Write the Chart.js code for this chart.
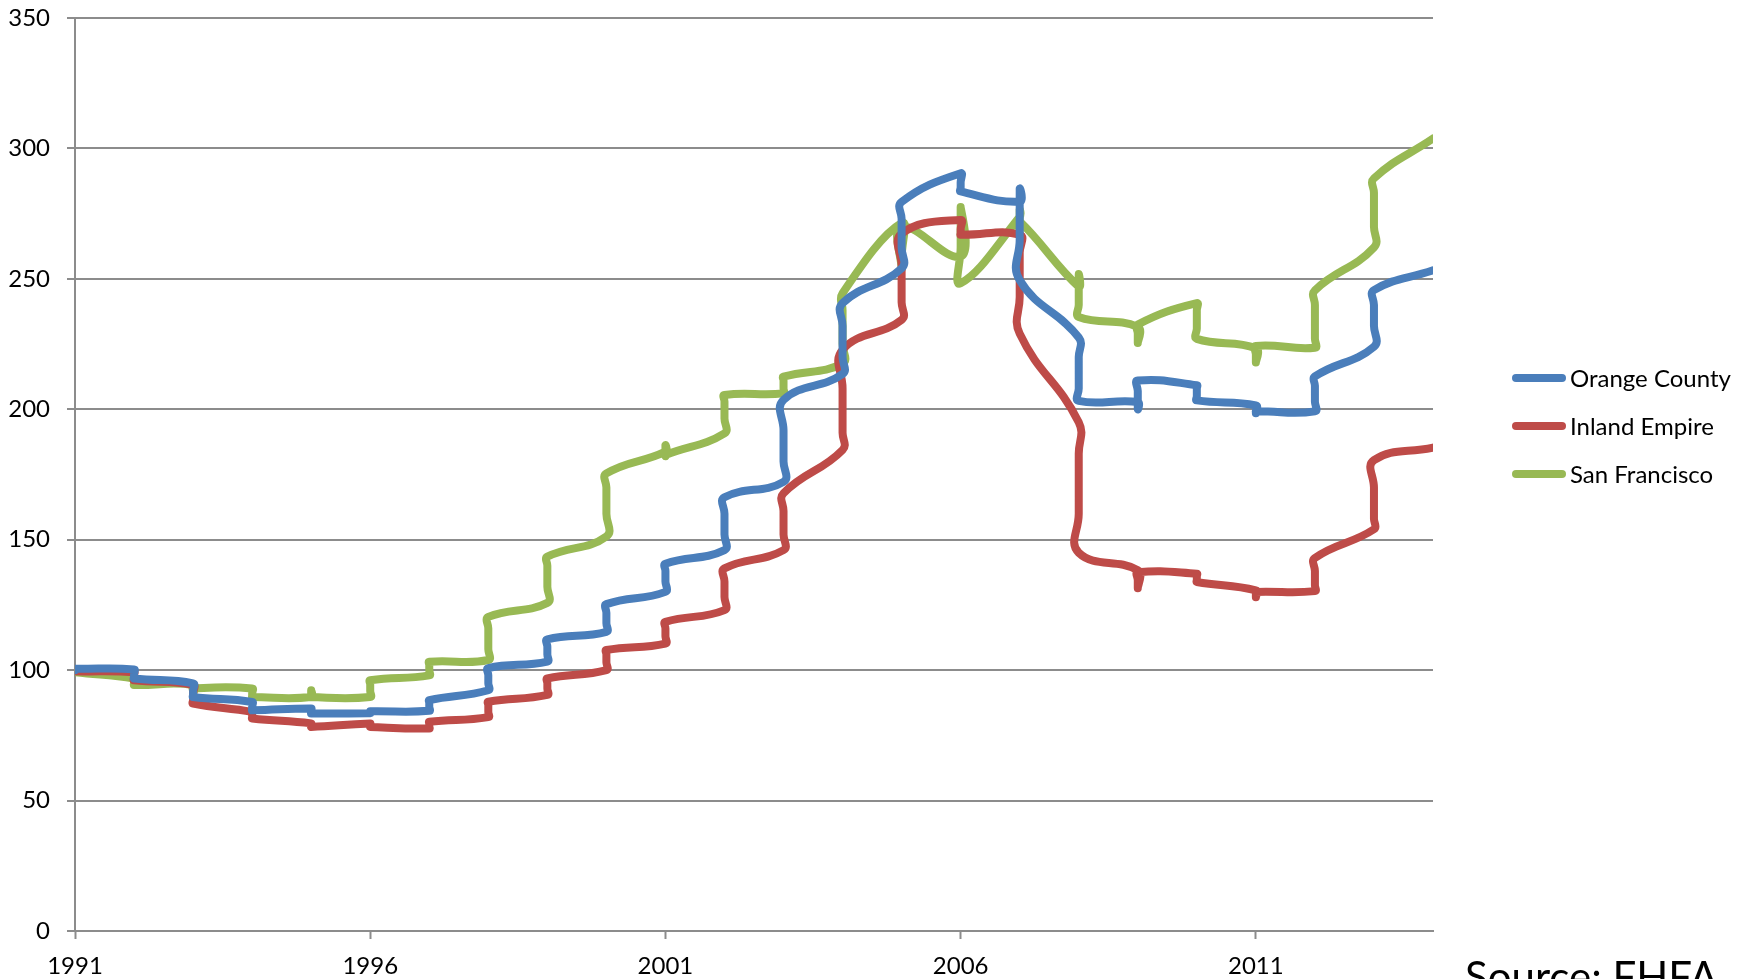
<!DOCTYPE html>
<html>
<head>
<meta charset="utf-8">
<script src="https://cdn.jsdelivr.net/npm/chart.js@4.4.1/dist/chart.umd.min.js"></script>
<style>
  html, body { margin: 0; padding: 0; background: #fff; overflow: hidden; }
  #wrap { position: relative; width: 1754px; height: 979px; }
  #chartBox { position: absolute; left: 0; top: 0; width: 1754px; height: 979px; }
  #source { position: absolute; left: 1465px; top: 955px; font: 42px Lato, sans-serif; line-height: 1; color: #000; white-space: nowrap; }
</style>
</head>
<body>
<div id="wrap">
  <div id="chartBox"><canvas id="myChart"></canvas></div>
  <div id="source">Source: FHFA</div>
</div>
<script>
// quarterly index values, four per year (the last year has only Q1)
const years = [1991, 1992, 1993, 1994, 1995, 1996, 1997, 1998, 1999, 2000, 2001, 2002,
  2003, 2004, 2005, 2006, 2007, 2008, 2009, 2010, 2011, 2012, 2013, 2014];

const orangeCounty = [
  [100, 100.5, 100.5, 100.5], [100.3, 98.5, 97.5, 96.8], [94.9, 92, 90.5, 89.7], [87.8, 86, 85, 84.6],
  [85.3, 84.5, 83.8, 83.4], [83.5, 83.8, 84, 84.2], [84.4, 86, 87.5, 88.5], [92.3, 95, 98, 100.8],
  [103.3, 106, 109, 111.8], [114.7, 118, 122, 125.3], [130, 134, 138, 140.8], [146, 152, 160, 166.3],
  [172.2, 180, 192, 203.6], [213.5, 220, 232, 240.7], [254, 262, 273, 279.5], [290.5, 287, 285, 283.5],
  [279.6, 284.5, 265, 249.5], [227.5, 220, 208, 203.2], [202.8, 200, 207, 211], [209.2, 208, 205, 203.4],
  [201.5, 198.5, 199, 199.2], [199.2, 203, 209, 212.6], [224, 232, 240, 245.7], [253.3]
];

const inlandEmpire = [
  [100, 100, 99.8, 99.6], [99.2, 98, 97, 96.1], [94.3, 91, 88.5, 87.2], [84, 83, 82, 81.5],
  [79.6, 79, 78.5, 78.2], [79.5, 79, 78.5, 78.2], [77.6, 78.5, 79.5, 80.2], [82, 84, 86.5, 87.9],
  [90.5, 93, 95, 96.8], [100, 103, 106, 107.7], [110.2, 113, 116, 118.5], [123, 128, 134, 139],
  [146, 152, 161, 167.8], [184.4, 191, 208, 222.8], [234.3, 241, 255, 267.3], [272.6, 269, 267.5, 266.9],
  [266.9, 260, 243, 229], [195, 183, 160, 145], [138.3, 131.5, 134.5, 137.5], [137, 136, 134.5, 133.8],
  [130.6, 128, 129.5, 130], [130.3, 132.5, 138, 143], [154, 158, 170, 180.5], [185.3]
];

const sanFrancisco = [
  [100, 99.7, 99.4, 99.2], [96.8, 95.5, 94.8, 94.3], [94.3, 90.5, 92, 93], [93, 91, 90, 89.7],
  [89.7, 92.3, 90.5, 89.7], [89.7, 92, 94.5, 96.1], [98, 100, 102, 103.2], [103.9, 108, 116, 120.4],
  [125.8, 132, 140, 143.5], [151.2, 160, 170, 175.4], [183.8, 186.3, 182, 182.5], [190.8, 196.5, 203, 205.5],
  [206.1, 208, 211, 212.5], [217.6, 225, 238, 244.5], [271.4, 258, 254, 270], [258.5, 277.5, 262, 248.3],
  [273.8, 276.5, 268.5, 272], [247, 251.8, 240, 235.4], [231.6, 225.5, 229, 232.5], [240.7, 238, 231, 227],
  [223.4, 218, 221, 224.3], [223.6, 227, 240, 245.6], [262, 270, 283, 288.5], [303.8]
];

const seriesNames = ['Orange County', 'Inland Empire', 'San Francisco'];
const xTickYears = [1991, 1996, 2001, 2006, 2011];
const yTicks = [0, 50, 100, 150, 200, 250, 300, 350];

const colors = ['#4a7ebb', '#be4b48', '#98b954'];
const gridGray = '#8c8c8c';
const tickFont = { family: 'Lato', size: 24 };

function toPoints(series) {
  return series.flatMap((vals, i) => vals.map(v => ({ x: years[i], y: v })));
}

// legend drawn to the right of the plot, Excel style
const sideLegend = {
  id: 'sideLegend',
  afterDraw(chart) {
    const ctx = chart.ctx;
    ctx.save();
    ctx.font = '24px Lato';
    ctx.textBaseline = 'middle';
    ctx.fillStyle = '#000';
    chart.data.datasets.forEach((ds, i) => {
      const y = 378 + i * 48;
      ctx.beginPath();
      ctx.lineWidth = 8;
      ctx.lineCap = 'round';
      ctx.strokeStyle = ds.borderColor;
      ctx.moveTo(1516, y);
      ctx.lineTo(1562, y);
      ctx.stroke();
      ctx.fillText(ds.label, 1570, y + 1);
    });
    ctx.restore();
  }
};

const ctx = document.getElementById('myChart').getContext('2d');

const myChart = new Chart(ctx, {
  type: 'line',
  data: {
    datasets: [orangeCounty, inlandEmpire, sanFrancisco].map((s, i) => ({
      label: seriesNames[i],
      data: toPoints(s),
      borderColor: colors[i],
      backgroundColor: colors[i],
      borderWidth: 8,
      borderCapStyle: 'round',
      borderJoinStyle: 'round',
      pointRadius: 0,
      fill: false,
      tension: 0.45
    }))
  },
  options: {
    responsive: true,
    maintainAspectRatio: false,
    animation: false,
    layout: {
      padding: { top: 18, right: 321, bottom: 0, left: 0 }
    },
    scales: {
      x: {
        type: 'linear',
        min: 1991,
        max: 2014,
        afterBuildTicks: (scale) => { scale.ticks = xTickYears.map(v => ({ value: v })); },
        afterFit: (scale) => { scale.height = 48; },
        grid: {
          drawOnChartArea: false,
          drawTicks: true,
          tickLength: 8,
          tickWidth: 2,
          tickColor: gridGray
        },
        border: { display: true, color: gridGray, width: 2 },
        ticks: {
          color: '#000',
          font: tickFont,
          padding: 13,
          maxRotation: 0,
          autoSkip: false,
          callback: (v) => String(v)
        }
      },
      y: {
        min: 0,
        max: 350,
        afterBuildTicks: (scale) => { scale.ticks = yTicks.map(v => ({ value: v })); },
        afterFit: (scale) => {
          scale.width = 75;
          scale.paddingTop = 12;
          scale.paddingBottom = 12;
        },
        grid: {
          color: gridGray,
          lineWidth: 2,
          drawTicks: true,
          tickLength: 8,
          tickColor: gridGray
        },
        border: { display: true, color: gridGray, width: 2 },
        ticks: {
          color: '#000',
          font: tickFont,
          padding: 17
        }
      }
    },
    plugins: {
      legend: { display: false },
      tooltip: { enabled: false }
    }
  },
  plugins: [sideLegend]
});
</script>
</body>
</html>
